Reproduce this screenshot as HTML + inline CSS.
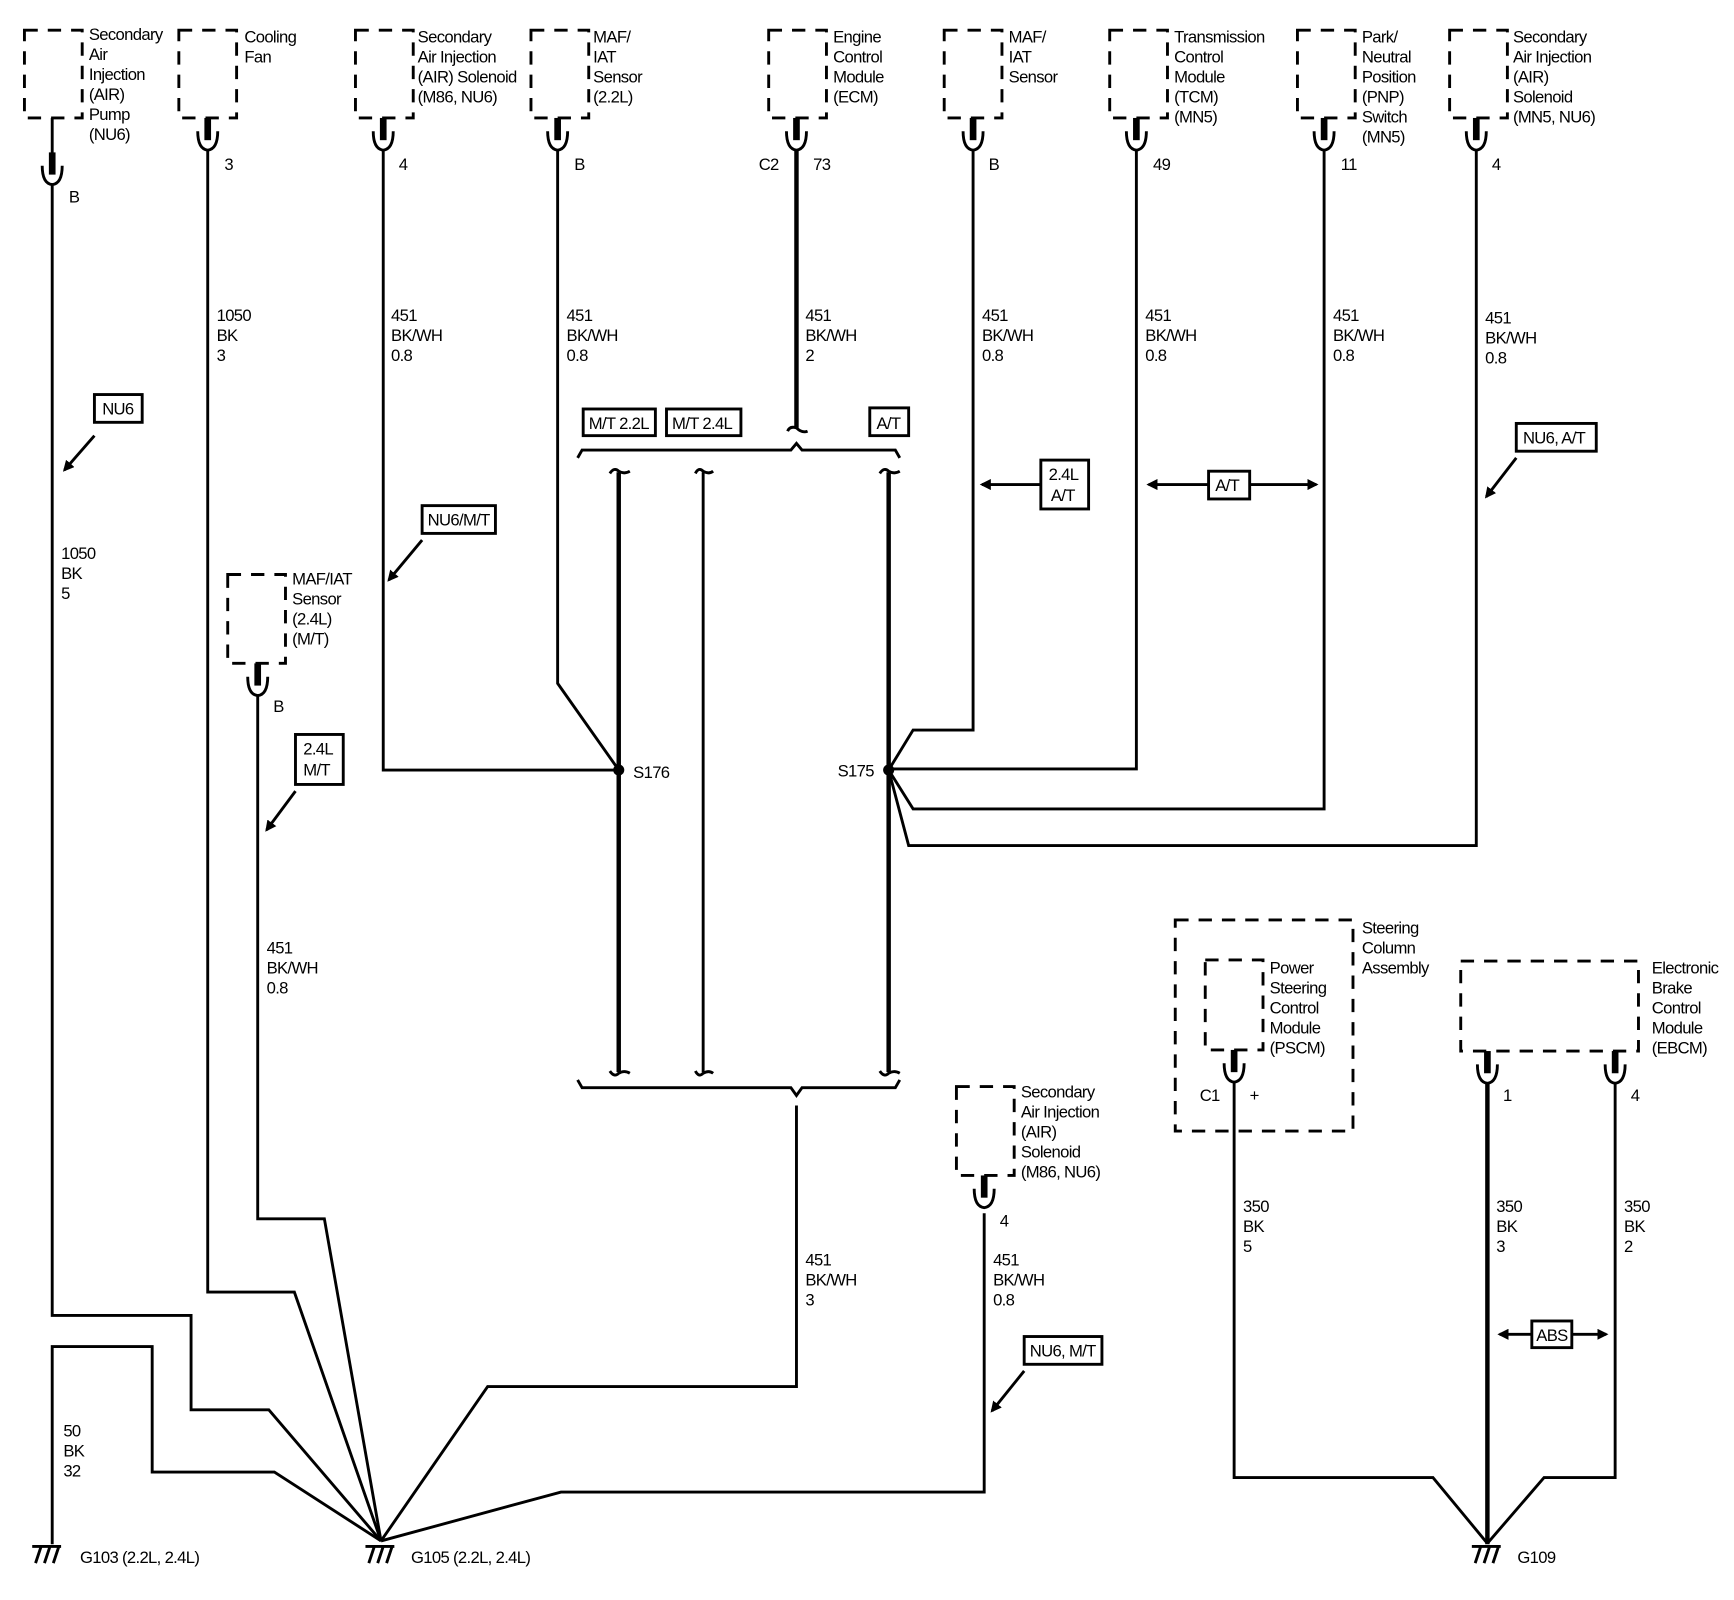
<!DOCTYPE html>
<html><head><meta charset="utf-8"><style>
html,body{margin:0;padding:0;background:#fff;}
svg{display:block;}
text{font-family:"Liberation Sans",Arial,sans-serif;font-size:15px;fill:#000;letter-spacing:-0.6px;}
.w{fill:none;stroke:#000;stroke-width:2.6;stroke-linejoin:miter;}
.t{fill:none;stroke:#000;stroke-width:4;}
.b{fill:none;stroke:#000;stroke-width:2.6;stroke-dasharray:12 9;}
.lb{fill:#fff;stroke:#000;stroke-width:2.6;}
</style></head><body>
<svg width="1734" height="1600" viewBox="0 0 1561 1440" xmlns="http://www.w3.org/2000/svg">
<defs>
<g id="cup">
<rect x="-3" y="0" width="6" height="20" fill="#000"/>
<path d="M-9 12 Q-9 28 0 29 Q9 28 9 12" fill="none" stroke="#000" stroke-width="2.6"/>
</g>
<marker id="ar" markerWidth="10" markerHeight="10" refX="8" refY="5" orient="auto" markerUnits="userSpaceOnUse"><path d="M0 0 L10 5 L0 10 z" fill="#000"/></marker>
<marker id="al" markerWidth="10" markerHeight="10" refX="2" refY="5" orient="auto" markerUnits="userSpaceOnUse"><path d="M10 0 L0 5 L10 10 z" fill="#000"/></marker>
<g id="gnd"><path d="M-14 0 H12 M-6 0 L-11 15 M2 0 L-3 15 M10 0 L5 15" fill="none" stroke="#000" stroke-width="2.6"/></g>
</defs>

<!-- top boxes -->
<rect class="b" x="22" y="27" width="52" height="79"/>
<rect class="b" x="161" y="27" width="52" height="79"/>
<rect class="b" x="320" y="27" width="52" height="79"/>
<rect class="b" x="478" y="27" width="52" height="79"/>
<rect class="b" x="692" y="27" width="52" height="79"/>
<rect class="b" x="850" y="27" width="52" height="79"/>
<rect class="b" x="999" y="27" width="52" height="79"/>
<rect class="b" x="1168" y="27" width="52" height="79"/>
<rect class="b" x="1305" y="27" width="52" height="79"/>

<text x="80" y="36">Secondary</text><text x="80" y="54">Air</text><text x="80" y="72">Injection</text><text x="80" y="90">(AIR)</text><text x="80" y="108">Pump</text><text x="80" y="126">(NU6)</text>
<text x="220" y="38">Cooling</text><text x="220" y="56">Fan</text>
<text x="376" y="38">Secondary</text><text x="376" y="56">Air Injection</text><text x="376" y="74">(AIR) Solenoid</text><text x="376" y="92">(M86, NU6)</text>
<text x="534" y="38">MAF/</text><text x="534" y="56">IAT</text><text x="534" y="74">Sensor</text><text x="534" y="92">(2.2L)</text>
<text x="750" y="38">Engine</text><text x="750" y="56">Control</text><text x="750" y="74">Module</text><text x="750" y="92">(ECM)</text>
<text x="908" y="38">MAF/</text><text x="908" y="56">IAT</text><text x="908" y="74">Sensor</text>
<text x="1057" y="38">Transmission</text><text x="1057" y="56">Control</text><text x="1057" y="74">Module</text><text x="1057" y="92">(TCM)</text><text x="1057" y="110">(MN5)</text>
<text x="1226" y="38">Park/</text><text x="1226" y="56">Neutral</text><text x="1226" y="74">Position</text><text x="1226" y="92">(PNP)</text><text x="1226" y="110">Switch</text><text x="1226" y="128">(MN5)</text>
<text x="1362" y="38">Secondary</text><text x="1362" y="56">Air Injection</text><text x="1362" y="74">(AIR)</text><text x="1362" y="92">Solenoid</text><text x="1362" y="110">(MN5, NU6)</text>

<!-- connectors -->
<line x1="47" y1="106" x2="47" y2="140" class="w"/>
<use href="#cup" x="47" y="137"/>
<use href="#cup" x="187" y="106"/>
<use href="#cup" x="345" y="106"/>
<use href="#cup" x="502" y="106"/>
<use href="#cup" x="717" y="106"/>
<use href="#cup" x="876" y="106"/>
<use href="#cup" x="1023" y="106"/>
<use href="#cup" x="1192" y="106"/>
<use href="#cup" x="1329" y="106"/>
<text x="62" y="182">B</text><text x="202" y="153">3</text><text x="359" y="153">4</text><text x="517" y="153">B</text>
<text x="683" y="153">C2</text><text x="732" y="153">73</text><text x="890" y="153">B</text><text x="1038" y="153">49</text><text x="1207" y="153">11</text><text x="1343" y="153">4</text>

<!-- wire labels -->
<text x="195" y="289">1050</text><text x="195" y="307">BK</text><text x="195" y="325">3</text>
<g><text x="352" y="289">451</text><text x="352" y="307">BK/WH</text><text x="352" y="325">0.8</text></g>
<g><text x="510" y="289">451</text><text x="510" y="307">BK/WH</text><text x="510" y="325">0.8</text></g>
<g><text x="725" y="289">451</text><text x="725" y="307">BK/WH</text><text x="725" y="325">2</text></g>
<g><text x="884" y="289">451</text><text x="884" y="307">BK/WH</text><text x="884" y="325">0.8</text></g>
<g><text x="1031" y="289">451</text><text x="1031" y="307">BK/WH</text><text x="1031" y="325">0.8</text></g>
<g><text x="1200" y="289">451</text><text x="1200" y="307">BK/WH</text><text x="1200" y="325">0.8</text></g>
<g><text x="1337" y="291">451</text><text x="1337" y="309">BK/WH</text><text x="1337" y="327">0.8</text></g>
<text x="55" y="503">1050</text><text x="55" y="521">BK</text><text x="55" y="539">5</text>
<text x="240" y="858">451</text><text x="240" y="876">BK/WH</text><text x="240" y="894">0.8</text>
<text x="725" y="1139">451</text><text x="725" y="1157">BK/WH</text><text x="725" y="1175">3</text>
<text x="894" y="1139">451</text><text x="894" y="1157">BK/WH</text><text x="894" y="1175">0.8</text>
<text x="57" y="1293">50</text><text x="57" y="1311">BK</text><text x="57" y="1329">32</text>

<!-- main wires -->
<path class="w" d="M47 166 V1184 H172 V1269 H242 L343 1387"/>
<path class="w" d="M187 135 V1163 H265 L343 1387"/>
<path class="w" d="M47 1390 V1212 H137 V1325 H247 L343 1387"/>
<path class="w" d="M232 626 V1097 H292 L343 1387"/>
<path class="w" d="M717 995 V1248 H439 L343 1387"/>
<path class="w" d="M886 1092 V1343 H505 L343 1387"/>
<path class="w" d="M345 135 V693 H557"/>
<path class="w" d="M502 135 V615 L557 693"/>
<path class="t" d="M717 135 V385"/>
<path class="w" d="M709 388 Q711 383 717 385 M717 385 Q722 390 727 388"/>
<path class="w" d="M876 135 V657 H822 L800 693"/>
<path class="w" d="M1023 135 V692 H800"/>
<path class="w" d="M1192 135 V728 H822 L800 693"/>
<path class="w" d="M1329 135 V761 H818 L800 693"/>
<use href="#gnd" x="43" y="1392"/>
<use href="#gnd" x="343" y="1392"/>
<text x="72" y="1407">G103 (2.2L, 2.4L)</text>
<text x="370" y="1407">G105 (2.2L, 2.4L)</text>

<!-- braces -->
<path class="w" d="M520 412 L524 405 H712 L717 399 L722 405 H806 L810 412"/>
<path class="w" d="M520 972 L524 979 H712 L717 986 L722 979 H806 L810 972"/>
<path class="t" d="M557 425 V965"/>
<path class="w" d="M633 425 V965"/>
<path class="t" d="M800 425 V965"/>
<path class="w" d="M549 426 Q553 420 557 424 Q562 427 567 424 M626 426 Q629 420 633 424 Q638 427 642 424 M792 426 Q796 420 800 424 Q805 427 810 424"/>
<path class="w" d="M549 964 Q553 970 557 966 Q562 963 567 966 M626 964 Q629 970 633 966 Q638 963 642 966 M792 964 Q796 970 800 966 Q805 963 810 966"/>
<circle cx="557" cy="693" r="5"/><circle cx="800" cy="693" r="5"/>
<text x="570" y="700">S176</text><text x="754" y="699">S175</text>
<rect class="lb" x="525" y="368" width="65" height="24"/><text x="530" y="386">M/T 2.2L</text>
<rect class="lb" x="600" y="368" width="67" height="24"/><text x="605" y="386">M/T 2.4L</text>
<rect class="lb" x="783" y="367" width="35" height="25"/><text x="789" y="386">A/T</text>

<!-- option arrows -->
<rect class="lb" x="85" y="355" width="43" height="25"/><text x="92" y="373">NU6</text>
<line class="w" x1="85" y1="392" x2="58" y2="423" marker-end="url(#ar)"/>
<rect class="lb" x="380" y="455" width="66" height="25"/><text x="385" y="473">NU6/M/T</text>
<line class="w" x1="380" y1="486" x2="350" y2="522" marker-end="url(#ar)"/>
<rect class="lb" x="266" y="661" width="43" height="45"/><text x="273" y="679">2.4L</text><text x="273" y="698">M/T</text>
<line class="w" x1="266" y1="712" x2="240" y2="747" marker-end="url(#ar)"/>
<rect class="lb" x="937" y="414" width="43" height="44"/><text x="944" y="432">2.4L</text><text x="946" y="451">A/T</text>
<line class="w" x1="937" y1="436" x2="884" y2="436" marker-end="url(#ar)"/>
<rect class="lb" x="1088" y="424" width="37" height="25"/><text x="1094" y="442">A/T</text>
<line class="w" x1="1088" y1="436" x2="1034" y2="436" marker-end="url(#ar)"/>
<line class="w" x1="1125" y1="436" x2="1185" y2="436" marker-end="url(#ar)"/>
<rect class="lb" x="1365" y="381" width="72" height="25"/><text x="1371" y="399">NU6, A/T</text>
<line class="w" x1="1365" y1="412" x2="1338" y2="447" marker-end="url(#ar)"/>
<rect class="lb" x="922" y="1203" width="70" height="25"/><text x="927" y="1221">NU6, M/T</text>
<line class="w" x1="922" y1="1234" x2="893" y2="1270" marker-end="url(#ar)"/>

<!-- MAF 2.4 -->
<rect class="b" x="205" y="517" width="52" height="80"/>
<text x="263" y="526">MAF/IAT</text><text x="263" y="544">Sensor</text><text x="263" y="562">(2.4L)</text><text x="263" y="580">(M/T)</text>
<use href="#cup" x="232" y="597"/><text x="246" y="641">B</text>

<!-- Sec AIR bottom -->
<rect class="b" x="861" y="978" width="52" height="80"/>
<text x="919" y="988">Secondary</text><text x="919" y="1006">Air Injection</text><text x="919" y="1024">(AIR)</text><text x="919" y="1042">Solenoid</text><text x="919" y="1060">(M86, NU6)</text>
<use href="#cup" x="886" y="1058"/><text x="900" y="1104">4</text>

<!-- Steering -->
<rect class="b" x="1058" y="828" width="160" height="190"/>
<text x="1226" y="840">Steering</text><text x="1226" y="858">Column</text><text x="1226" y="876">Assembly</text>
<rect class="b" x="1085" y="864" width="52" height="81"/>
<text x="1143" y="876">Power</text><text x="1143" y="894">Steering</text><text x="1143" y="912">Control</text><text x="1143" y="930">Module</text><text x="1143" y="948">(PSCM)</text>
<use href="#cup" x="1111" y="945"/>
<text x="1080" y="991">C1</text><text x="1125" y="991">+</text>
<rect class="b" x="1315" y="865" width="160" height="81"/>
<text x="1487" y="876">Electronic</text><text x="1487" y="894">Brake</text><text x="1487" y="912">Control</text><text x="1487" y="930">Module</text><text x="1487" y="948">(EBCM)</text>
<use href="#cup" x="1339" y="946"/><use href="#cup" x="1454" y="946"/>
<text x="1353" y="991">1</text><text x="1468" y="991">4</text>
<path class="w" d="M1111 974 V1330 H1290 L1338 1388"/>
<path class="t" d="M1339 975 V1390"/>
<path class="w" d="M1454 975 V1330 H1390 L1340 1388"/>
<text x="1119" y="1091">350</text><text x="1119" y="1109">BK</text><text x="1119" y="1127">5</text>
<text x="1347" y="1091">350</text><text x="1347" y="1109">BK</text><text x="1347" y="1127">3</text>
<text x="1462" y="1091">350</text><text x="1462" y="1109">BK</text><text x="1462" y="1127">2</text>
<rect class="lb" x="1379" y="1189" width="36" height="24"/><text x="1383" y="1207">ABS</text>
<line class="w" x1="1379" y1="1201" x2="1350" y2="1201" marker-end="url(#ar)"/>
<line class="w" x1="1415" y1="1201" x2="1446" y2="1201" marker-end="url(#ar)"/>
<use href="#gnd" x="1339" y="1392"/>
<text x="1366" y="1407">G109</text>
</svg>
</body></html>
